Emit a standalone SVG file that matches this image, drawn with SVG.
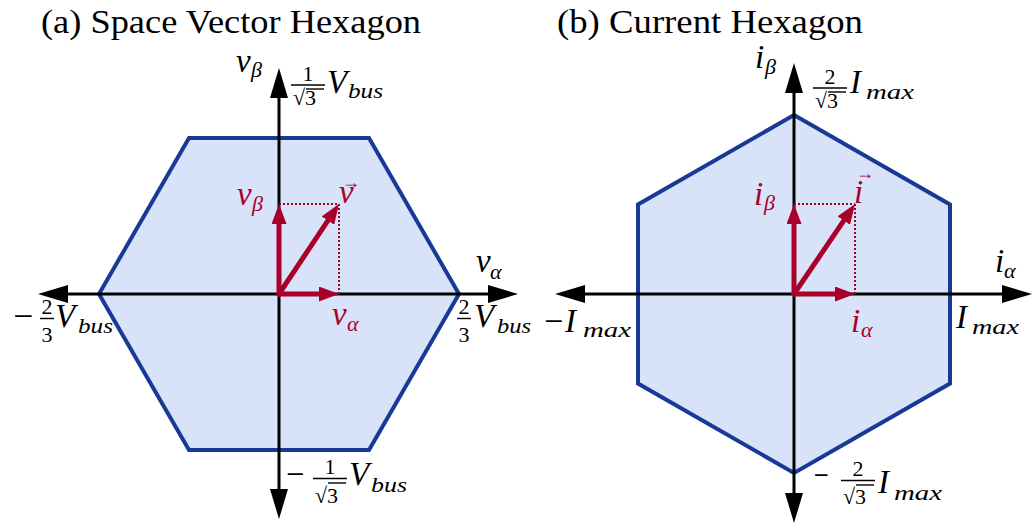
<svg xmlns="http://www.w3.org/2000/svg" width="1033" height="525" viewBox="0 0 1033 525">
<style>
.hex{fill:#d8e2f8;stroke:#183a96;stroke-width:4;stroke-linejoin:miter}
.ax{stroke:#000;stroke-width:3;fill:none}
.vec{stroke:#a8002b;stroke-width:5;fill:none;stroke-linecap:round}
.dot{stroke:#a8002b;stroke-width:2;stroke-dasharray:2 2;fill:none}
.bar{stroke:#000;stroke-width:1.4}
text{font-family:"Liberation Serif","Times New Roman",serif;fill:#000}
.t{font-size:34px}
.m{font-size:33px;font-style:italic}
.s{font-size:22px;font-style:italic}
.n{font-size:22px}
.r{fill:#a8002b}
.acc{font-size:18px;font-style:normal}
</style>
<defs>
<marker id="ab" viewBox="0 0 30 18" markerWidth="30" markerHeight="18" refX="0" refY="9" markerUnits="userSpaceOnUse" orient="auto-start-reverse">
<path d="M0,0 L30,9 L0,18 z" fill="#000"/>
</marker>
<marker id="ar" viewBox="0 0 20 15" markerWidth="20" markerHeight="15" refX="0" refY="7.5" markerUnits="userSpaceOnUse" orient="auto">
<path d="M0,0 L20,7.5 L0,15 z" fill="#a8002b"/>
</marker>
</defs>

<text class="t" x="41" y="33" textLength="380" lengthAdjust="spacingAndGlyphs">(a) Space Vector Hexagon</text>
<text class="t" x="557" y="33" textLength="306" lengthAdjust="spacingAndGlyphs">(b) Current Hexagon</text>

<g id="hexagon-a">
<polygon class="hex" points="99,294 189,138 369,138 459,294 369,450 189,450"/>
</g>
<g id="hexagon-b">
<polygon class="hex" points="794,115 950,204.5 950,383.5 794,473 638,383.5 638,204.5"/>
</g>

<g id="connectors">
<line class="ax" x1="68" y1="294" x2="488" y2="294" marker-start="url(#ab)" marker-end="url(#ab)"/>
<line class="ax" x1="279" y1="98" x2="279" y2="489" marker-start="url(#ab)" marker-end="url(#ab)"/>
<line class="ax" x1="585" y1="294" x2="1002" y2="294" marker-start="url(#ab)" marker-end="url(#ab)"/>
<line class="ax" x1="794" y1="93" x2="794" y2="493" marker-start="url(#ab)" marker-end="url(#ab)"/>

<line class="dot" x1="279" y1="204" x2="339" y2="204"/>
<line class="dot" x1="339" y1="204" x2="339" y2="294"/>
<line class="vec" x1="279" y1="294" x2="319" y2="294" marker-end="url(#ar)"/>
<line class="vec" x1="279" y1="294" x2="279" y2="224" marker-end="url(#ar)"/>
<line class="vec" x1="279" y1="294" x2="327.9" y2="220.6" marker-end="url(#ar)"/>

<line class="dot" x1="794" y1="204" x2="855" y2="204"/>
<line class="dot" x1="855" y1="204" x2="855" y2="294"/>
<line class="vec" x1="794" y1="294" x2="835" y2="294" marker-end="url(#ar)"/>
<line class="vec" x1="794" y1="294" x2="794" y2="224" marker-end="url(#ar)"/>
<line class="vec" x1="794" y1="294" x2="843.8" y2="220.6" marker-end="url(#ar)"/>
</g>

<g id="labels-a">
<text class="m" x="236" y="72">v</text><text class="s" x="251" y="77">β</text>
<text class="n" x="308" y="81" text-anchor="middle">1</text>
<line class="bar" x1="291" y1="85" x2="325" y2="85"/>
<text class="n" x="293" y="105">√3</text>
<line class="bar" x1="306" y1="89" x2="324" y2="89"/>
<text class="m" x="327" y="93">V</text><text class="s" x="348" y="98" textLength="35" lengthAdjust="spacingAndGlyphs">bus</text>

<text class="m" x="476" y="272">v</text><text class="s" x="490" y="279">α</text>
<text class="n" x="464" y="314" text-anchor="middle">2</text>
<line class="bar" x1="457" y1="318.5" x2="471" y2="318.5"/>
<text class="n" x="464" y="342" text-anchor="middle">3</text>
<text class="m" x="474" y="327">V</text><text class="s" x="497" y="333" textLength="34" lengthAdjust="spacingAndGlyphs">bus</text>

<text class="m" x="11" y="327" textLength="24" lengthAdjust="spacingAndGlyphs">−</text>
<text class="n" x="47" y="314" text-anchor="middle">2</text>
<line class="bar" x1="40" y1="318.5" x2="54" y2="318.5"/>
<text class="n" x="47" y="342" text-anchor="middle">3</text>
<text class="m" x="55" y="327">V</text><text class="s" x="78" y="333" textLength="35" lengthAdjust="spacingAndGlyphs">bus</text>

<text class="m" x="284" y="485" textLength="22" lengthAdjust="spacingAndGlyphs">−</text>
<text class="n" x="330" y="474" text-anchor="middle">1</text>
<line class="bar" x1="313" y1="478.5" x2="347" y2="478.5"/>
<text class="n" x="315" y="503">√3</text>
<line class="bar" x1="328" y1="483" x2="346" y2="483"/>
<text class="m" x="349" y="485">V</text><text class="s" x="371" y="492" textLength="36" lengthAdjust="spacingAndGlyphs">bus</text>

<text class="m r" x="237" y="205">v</text><text class="s r" x="252" y="211">β</text>
<text class="m r" x="339" y="203">v<tspan class="acc" x="342" y="188">→</tspan></text>
<text class="m r" x="332" y="325">v</text><text class="s r" x="347" y="331">α</text>
</g>

<g id="labels-b">
<text class="m" x="755" y="68">i</text><text class="s" x="765" y="74">β</text>
<text class="n" x="830" y="84" text-anchor="middle">2</text>
<line class="bar" x1="813" y1="88" x2="847" y2="88"/>
<text class="n" x="815" y="108">√3</text>
<line class="bar" x1="828" y1="92" x2="846" y2="92"/>
<text class="m" x="850" y="93">I</text><text class="s" x="866" y="99" textLength="48" lengthAdjust="spacingAndGlyphs">max</text>

<text class="m" x="995" y="272">i</text><text class="s" x="1004" y="278">α</text>
<text class="m" x="956" y="328">I</text><text class="s" x="972" y="334" textLength="47" lengthAdjust="spacingAndGlyphs">max</text>

<text class="m" x="542" y="332" textLength="23" lengthAdjust="spacingAndGlyphs">−</text>
<text class="m" x="565" y="332">I</text><text class="s" x="583" y="337" textLength="48" lengthAdjust="spacingAndGlyphs">max</text>

<text class="m" x="812" y="486" textLength="18" lengthAdjust="spacingAndGlyphs">−</text>
<text class="n" x="858" y="476" text-anchor="middle">2</text>
<line class="bar" x1="841" y1="480.5" x2="875" y2="480.5"/>
<text class="n" x="843" y="504">√3</text>
<line class="bar" x1="856" y1="485" x2="874" y2="485"/>
<text class="m" x="878" y="493">I</text><text class="s" x="894" y="500" textLength="48" lengthAdjust="spacingAndGlyphs">max</text>

<text class="m r" x="754" y="205">i</text><text class="s r" x="764" y="210">β</text>
<text class="m r" x="854" y="203">i<tspan class="acc" x="856" y="179">→</tspan></text>
<text class="m r" x="851" y="332">i</text><text class="s r" x="861" y="337">α</text>
</g>
</svg>
